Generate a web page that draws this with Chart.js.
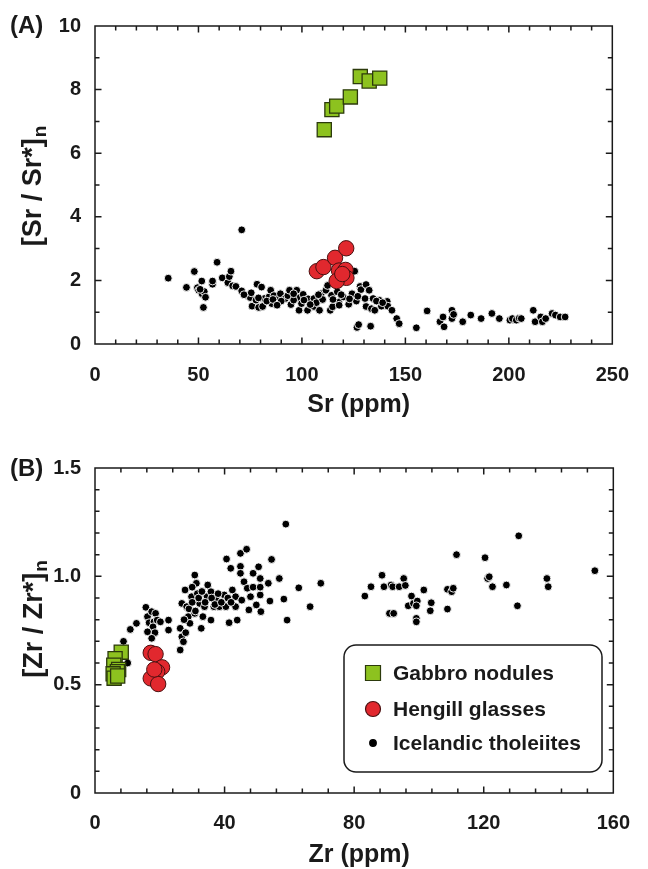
<!DOCTYPE html>
<html>
<head>
<meta charset="utf-8">
<script src="https://cdn.jsdelivr.net/npm/chart.js@4.4.1/dist/chart.umd.min.js"></script>
<style>
  html, body { margin: 0; padding: 0; background: #fff; }
  .panel { position: absolute; left: 0; width: 648px; }
  #wrapA { top: 0; height: 434px; }
  #wrapB { top: 434px; height: 435px; }
</style>
</head>
<body>
<div class="panel" id="wrapA"><canvas id="chartA" width="648" height="434"></canvas></div>
<div class="panel" id="wrapB"><canvas id="chartB" width="648" height="435"></canvas></div>
<script>
// ---- data, panel A: Sr (ppm) vs [Sr/Sr*]n ----
const gabbroSr = [
  [110.8, 6.74], [114.5, 7.37], [116.8, 7.48], [123.4, 7.77],
  [128.2, 8.41], [132.5, 8.27], [137.6, 8.36]
];
const hengillSr = [
  [107.2, 2.29], [110.4, 2.42], [116.0, 2.71], [121.4, 3.01], [117.9, 2.31],
  [121.1, 2.33], [121.5, 2.08], [116.8, 1.98], [119.5, 2.20]
];
const tholeiiteSr = [
  [35.4, 2.07], [44.2, 1.78], [48.0, 2.28], [49.5, 1.77], [50.1, 1.69], [51.6, 1.98],
  [51.7, 1.58], [52.4, 1.15], [52.8, 1.65], [53.4, 1.47], [50.8, 1.72], [56.8, 1.88],
  [56.8, 1.98], [59.0, 2.57], [61.5, 2.08], [64.2, 1.93], [64.9, 2.12], [65.7, 2.29],
  [66.5, 1.83], [68.1, 1.81], [70.9, 3.59], [70.9, 1.67], [74.2, 1.50], [75.0, 1.46],
  [75.5, 1.61], [75.9, 1.19], [77.8, 1.38], [78.3, 1.88], [79.1, 1.15], [80.5, 1.79],
  [81.0, 1.18], [81.8, 1.43], [84.1, 1.48], [84.9, 1.69], [85.4, 1.27], [86.5, 1.52],
  [88.1, 1.40], [89.6, 1.58], [92.0, 1.43], [93.2, 1.52], [94.0, 1.69], [94.7, 1.24],
  [97.5, 1.69], [98.3, 1.45], [98.6, 1.06], [99.8, 1.27], [100.6, 1.56], [102.7, 1.06],
  [103.0, 1.42], [105.8, 1.43], [105.8, 1.18], [108.5, 1.06], [109.3, 1.58], [111.6, 1.69],
  [112.4, 1.84], [113.7, 1.06], [114.3, 1.53], [114.8, 1.17], [117.1, 1.64], [117.9, 1.32],
  [120.0, 1.48], [122.6, 1.25], [124.2, 1.58], [125.5, 2.29], [126.3, 1.35], [126.6, 0.52],
  [127.4, 0.61], [128.1, 1.81], [128.5, 1.71], [130.5, 1.43], [131.0, 1.87], [131.0, 1.18],
  [132.5, 1.69], [133.2, 0.56], [133.6, 1.11], [134.4, 1.43], [135.2, 1.06], [137.3, 1.38],
  [138.4, 1.19], [141.2, 1.34], [141.5, 1.19], [143.5, 1.06], [145.8, 0.80], [147.0, 0.64],
  [155.3, 0.51], [160.5, 1.04], [166.7, 0.70], [168.2, 0.85], [168.7, 0.54], [172.5, 1.06],
  [172.5, 0.80], [173.3, 0.93], [177.7, 0.70], [181.6, 0.91], [186.6, 0.80], [191.8, 0.96],
  [195.4, 0.80], [200.5, 0.75], [201.7, 0.80], [203.6, 0.75], [205.0, 0.81], [206.0, 0.80],
  [211.8, 1.06], [212.7, 0.70], [215.4, 0.85], [216.2, 0.70], [217.8, 0.80], [220.9, 0.96],
  [222.5, 0.91], [224.8, 0.85], [227.2, 0.85],
  [83.0, 1.35], [86.0, 1.40], [90.0, 1.35], [96.0, 1.38], [101.0, 1.38], [107.0, 1.30],
  [110.0, 1.40], [115.0, 1.40], [119.0, 1.55], [123.0, 1.42], [127.0, 1.50], [136.0, 1.35],
  [139.0, 1.30], [79.0, 1.45], [72.0, 1.55], [88.0, 1.22], [104.0, 1.24], [118.0, 1.22],
  [96.0, 1.58], [108.0, 1.55]
];

// ---- data, panel B: Zr (ppm) vs [Zr/Zr*]n ----
const gabbroZr = [
  [8.1, 0.65], [6.2, 0.62], [5.8, 0.59], [7.3, 0.57], [6.9, 0.56], [5.6, 0.55], [5.9, 0.53], [7.0, 0.54]
];
const hengillZr = [
  [17.2, 0.647], [18.7, 0.641], [20.7, 0.58], [19.2, 0.56], [17.2, 0.529], [19.5, 0.503], [18.3, 0.57]
];
const tholeiiteZr = [
  [8.8, 0.70], [10.1, 0.60], [10.9, 0.755], [12.8, 0.783], [15.7, 0.857], [16.2, 0.814],
  [17.5, 0.837], [16.7, 0.786], [18.2, 0.79], [18.7, 0.829], [17.9, 0.767], [19.2, 0.798],
  [20.2, 0.79], [18.5, 0.74], [17.5, 0.714], [16.2, 0.744], [22.7, 0.798], [22.7, 0.752],
  [26.3, 0.66], [26.3, 0.76], [26.8, 0.721], [27.3, 0.698], [27.8, 0.937], [26.8, 0.875],
  [28.3, 0.86], [28.8, 0.814], [29.3, 0.783], [29.8, 0.906], [30.8, 1.006], [31.3, 0.968],
  [31.6, 0.92], [30.8, 0.829], [32.3, 0.875], [32.8, 0.76], [33.3, 0.814], [33.8, 0.86],
  [34.6, 0.906], [34.8, 0.96], [35.8, 0.798], [35.8, 0.929], [36.7, 0.86], [37.4, 0.89],
  [38.4, 0.86], [39.9, 0.914], [40.4, 0.86], [40.6, 1.08], [41.4, 0.786], [41.9, 1.037],
  [42.4, 0.937], [43.4, 0.906], [43.4, 0.86], [43.9, 0.798], [44.9, 1.106], [44.9, 1.046],
  [44.9, 1.014], [45.3, 0.89], [46.0, 0.975], [46.8, 1.125], [47.0, 0.945], [47.5, 0.845],
  [48.0, 0.906], [48.8, 1.014], [48.8, 0.95], [49.8, 0.868], [50.5, 1.044], [51.0, 0.914],
  [51.0, 0.95], [51.2, 0.837], [51.0, 0.99], [53.5, 0.968], [54.0, 0.886], [54.5, 1.078],
  [56.9, 0.99], [58.3, 0.895], [58.9, 1.241], [59.3, 0.798], [62.9, 0.947], [66.4, 0.86],
  [69.7, 0.968], [83.3, 0.909], [85.2, 0.952], [88.6, 1.005], [89.2, 0.952], [91.4, 0.96],
  [91.9, 0.952], [93.9, 0.952], [95.3, 0.99], [95.8, 0.958], [90.9, 0.829], [92.2, 0.829],
  [96.7, 0.864], [97.7, 0.909], [98.3, 0.875], [99.5, 0.886], [99.2, 0.864], [99.2, 0.806],
  [99.2, 0.79], [101.5, 0.937], [103.8, 0.878], [103.5, 0.841], [108.8, 0.849], [108.8, 0.94],
  [110.1, 0.929], [110.6, 0.945], [111.6, 1.10], [120.4, 1.086], [121.2, 0.99], [121.7, 0.998],
  [122.7, 0.952], [127.0, 0.96], [130.4, 0.864], [130.8, 1.187], [139.5, 0.99], [139.9, 0.952],
  [154.3, 1.026],
  [29.0, 0.85], [30.0, 0.88], [31.0, 0.84], [32.0, 0.90], [33.0, 0.93], [34.0, 0.88],
  [36.0, 0.90], [37.0, 0.87], [38.0, 0.92], [39.0, 0.88], [41.0, 0.90], [42.0, 0.88],
  [27.5, 0.80], [28.0, 0.74], [30.0, 0.95]
];

const seriesNames = ['Gabbro nodules', 'Hengill glasses', 'Icelandic tholeiites'];

const FONT = '"Liberation Sans", Arial, Helvetica, sans-serif';
const INK = '#1a1a1a';

function toPts(arr) { return arr.map(p => ({ x: p[0], y: p[1] })); }

function makeDatasets(gabbro, hengill, thol) {
  return [
    {
      label: seriesNames[0], data: toPts(gabbro), order: 1,
      pointStyle: 'rect', pointRadius: 10, pointBorderWidth: 1.3,
      backgroundColor: '#8dc21f', borderColor: '#2c3a0c'
    },
    {
      label: seriesNames[1], data: toPts(hengill), order: 2,
      pointStyle: 'circle', pointRadius: 7.7, pointBorderWidth: 1,
      backgroundColor: '#e1282e', borderColor: '#4a1010'
    },
    {
      label: seriesNames[2], data: toPts(thol), order: 3,
      pointStyle: 'circle', pointRadius: 3.9, pointBorderWidth: 0.9,
      backgroundColor: '#000', borderColor: '#fff'
    }
  ];
}

// frame with inward ticks on all four sides, plus titles drawn on top
function decorPlugin(cfg) {
  return {
    id: 'decor',
    afterDatasetsDraw(chart) {
      const { ctx, chartArea: a, scales } = chart;
      ctx.save();
      ctx.strokeStyle = INK;
      ctx.lineWidth = 1.5;
      ctx.strokeRect(a.left, a.top, a.right - a.left, a.bottom - a.top);

      const drawTicks = (scale, minor, major, horizontal) => {
        const n = Math.round((scale.max - scale.min) / minor);
        for (let i = 1; i < n; i++) {
          const v = scale.min + i * minor;
          const isMajor = Math.abs(v / major - Math.round(v / major)) < 1e-6;
          const len = isMajor ? 6.5 : 4.5;
          const p = scale.getPixelForValue(v);
          ctx.beginPath();
          if (horizontal) {
            ctx.moveTo(p, a.bottom); ctx.lineTo(p, a.bottom - len);
            ctx.moveTo(p, a.top); ctx.lineTo(p, a.top + len);
          } else {
            ctx.moveTo(a.left, p); ctx.lineTo(a.left + len, p);
            ctx.moveTo(a.right, p); ctx.lineTo(a.right - len, p);
          }
          ctx.stroke();
        }
      };
      drawTicks(scales.x, cfg.xMinor, cfg.xMajor, true);
      drawTicks(scales.y, cfg.yMinor, cfg.yMajor, false);

      ctx.fillStyle = INK;
      // panel letter
      ctx.font = 'bold 24px ' + FONT;
      ctx.textAlign = 'left';
      ctx.textBaseline = 'middle';
      ctx.fillText(cfg.panel, 10, cfg.panelY);

      // x title
      ctx.font = 'bold 25px ' + FONT;
      ctx.textAlign = 'center';
      ctx.fillText(cfg.xTitle, (a.left + a.right) / 2 + 5, cfg.xTitleY);

      // y title with subscript n
      ctx.translate(cfg.yTitleX, cfg.yTitleCY);
      ctx.rotate(-Math.PI / 2);
      ctx.textBaseline = 'alphabetic';
      ctx.textAlign = 'left';
      ctx.font = 'bold 27px ' + FONT;
      const w1 = ctx.measureText(cfg.yTitle).width;
      ctx.font = 'bold 19px ' + FONT;
      const w2 = ctx.measureText('n').width;
      const x0 = -(w1 + w2 + 1) / 2;
      ctx.font = 'bold 27px ' + FONT;
      ctx.fillText(cfg.yTitle, x0, 0);
      ctx.font = 'bold 19px ' + FONT;
      ctx.fillText('n', x0 + w1 + 1, 5);
      ctx.restore();

      if (cfg.legend) drawLegend(chart, cfg.legend);
    }
  };
}

function drawLegend(chart, L) {
  const ctx = chart.ctx;
  const ds = chart.data.datasets;
  ctx.save();
  ctx.strokeStyle = INK;
  ctx.lineWidth = 1.5;
  ctx.fillStyle = '#fff';
  ctx.beginPath();
  ctx.roundRect(L.x, L.y, L.w, L.h, 12);
  ctx.fill();
  ctx.stroke();
  const rows = L.rows;
  ds.forEach((d, i) => {
    const cy = rows[i];
    ctx.fillStyle = d.backgroundColor;
    ctx.strokeStyle = i === 2 ? d.backgroundColor : d.borderColor;
    ctx.lineWidth = 1.2;
    ctx.beginPath();
    if (i === 0) ctx.rect(L.markX - 7.5, cy - 7.5, 15, 15);
    else if (i === 1) ctx.arc(L.markX, cy, 7.5, 0, Math.PI * 2);
    else ctx.arc(L.markX, cy, 3.3, 0, Math.PI * 2);
    ctx.fill();
    ctx.stroke();
    ctx.fillStyle = INK;
    ctx.font = 'bold 21px ' + FONT;
    ctx.textAlign = 'left';
    ctx.textBaseline = 'middle';
    ctx.fillText(d.label, L.textX, cy + 1);
  });
  ctx.restore();
}

function baseOptions(o) {
  const tickFont = { family: FONT, size: 20, weight: 'bold' };
  return {
    responsive: false,
    animation: false,
    layout: { padding: { top: o.top, right: o.right, left: 0, bottom: 0 } },
    plugins: { legend: { display: false }, tooltip: { enabled: false } },
    scales: {
      x: {
        type: 'linear', min: o.xMin, max: o.xMax,
        ticks: { stepSize: o.xStep, font: tickFont, color: INK, padding: o.xPad, maxRotation: 0 },
        grid: { display: false, drawTicks: false },
        border: { display: false },
        afterFit(s) { s.height = o.xHeight; }
      },
      y: {
        type: 'linear', min: o.yMin, max: o.yMax,
        ticks: { stepSize: o.yStep, font: tickFont, color: INK, padding: 14, callback: o.yFmt },
        grid: { display: false, drawTicks: false },
        border: { display: false },
        afterFit(s) { s.width = 95; }
      }
    }
  };
}

new Chart(document.getElementById('chartA'), {
  type: 'scatter',
  data: { datasets: makeDatasets(gabbroSr, hengillSr, tholeiiteSr) },
  options: baseOptions({
    top: 24, right: 23, xMin: 0, xMax: 250, xStep: 50, xPad: 19, xHeight: 90,
    yMin: 0, yMax: 10, yStep: 2, yFmt: v => String(v)
  }),
  plugins: [decorPlugin({
    xMinor: 10, xMajor: 50, yMinor: 1, yMajor: 2,
    panel: '(A)', panelY: 26, xTitle: 'Sr (ppm)', xTitleY: 405,
    yTitle: '[Sr / Sr*]', yTitleX: 41, yTitleCY: 186
  })]
});

new Chart(document.getElementById('chartB'), {
  type: 'scatter',
  data: { datasets: makeDatasets(gabbroZr, hengillZr, tholeiiteZr) },
  options: baseOptions({
    top: 34, right: 25, xMin: 0, xMax: 160, xStep: 40, xPad: 18, xHeight: 76,
    yMin: 0, yMax: 1.5, yStep: 0.5, yFmt: v => (v === 0 ? '0' : v.toFixed(1))
  }),
  plugins: [decorPlugin({
    xMinor: 8, xMajor: 40, yMinor: 0.1, yMajor: 0.5,
    panel: '(B)', panelY: 35, xTitle: 'Zr (ppm)', xTitleY: 421,
    yTitle: '[Zr / Zr*]', yTitleX: 42, yTitleCY: 185,
    legend: { x: 344, y: 211, w: 258, h: 127, markX: 373, textX: 393, rows: [239, 275, 309] }
  })]
});
</script>
</body>
</html>
